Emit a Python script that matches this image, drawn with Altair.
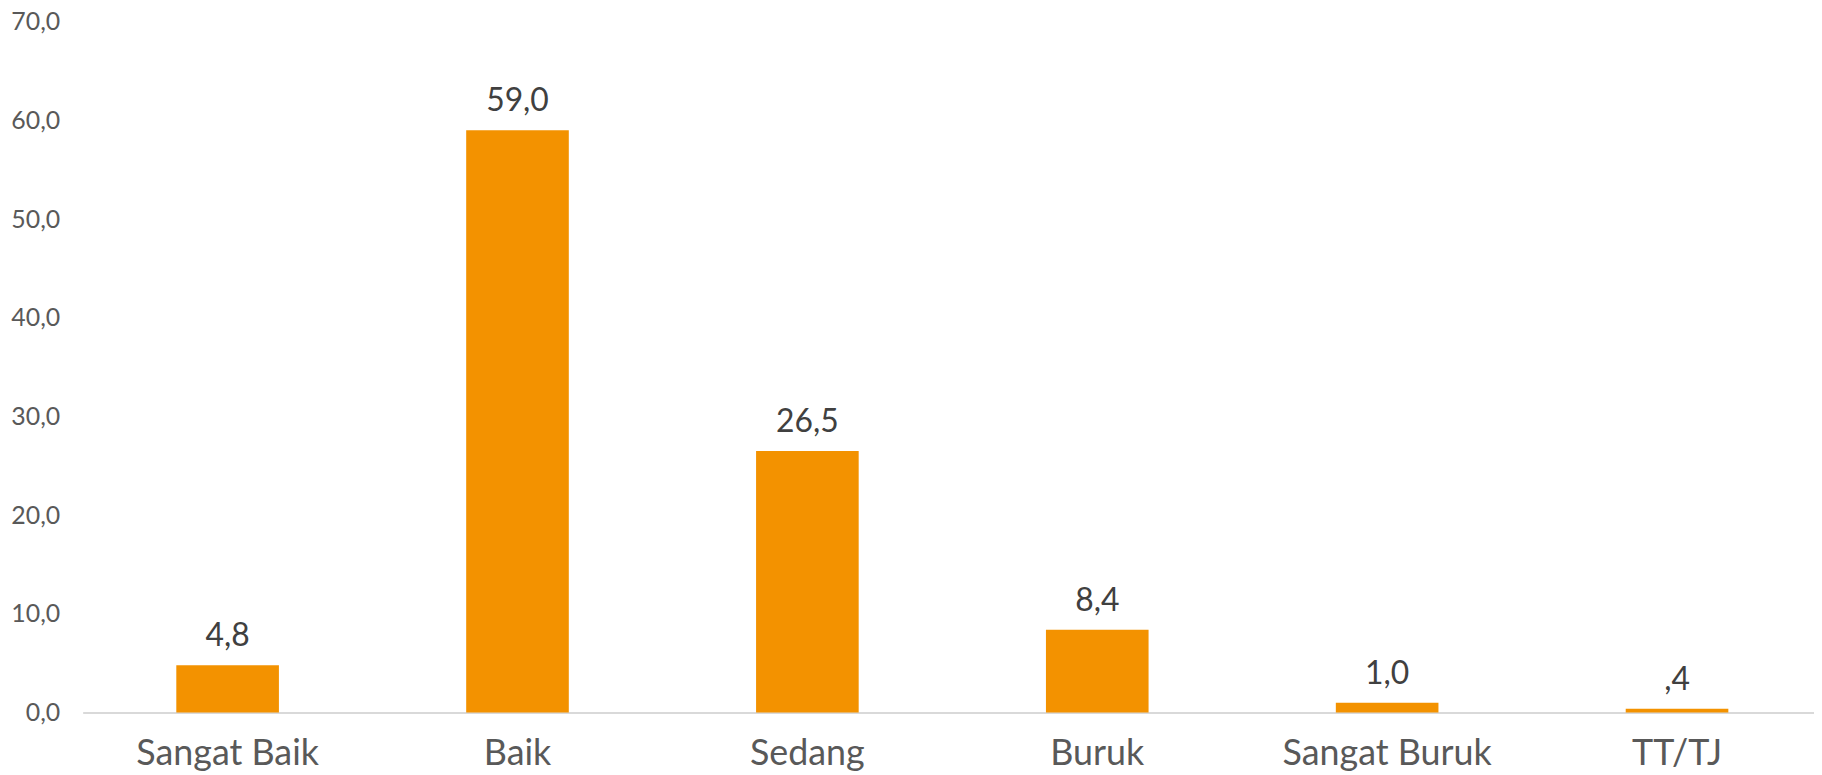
import altair as alt
import pandas as pd

categories = ["Sangat Baik", "Baik", "Sedang", "Buruk", "Sangat Buruk", "TT/TJ"]
values = [4.8, 59.0, 26.5, 8.4, 1.0, 0.4]


def fmt(v):
    s = f"{v:.1f}".replace(".", ",")
    if s.startswith("0,"):
        s = s[1:]
    return s


df = pd.DataFrame({
    "kategori": categories,
    "nilai": values,
    "label": [fmt(v) for v in values],
})

FONT = "Lato"

x = alt.X(
    "kategori:N",
    sort=categories,
    scale=alt.Scale(paddingInner=0.646, paddingOuter=0.323, range=[0, 1747]),
    axis=alt.Axis(
        title=None,
        labelAngle=0,
        labelFont=FONT,
        labelFontSize=36,
        labelColor="#595959",
        labelPadding=24,
        labelLimit=500,
        ticks=False,
        domainColor="#D9D9D9",
        domainWidth=2,
        grid=False,
    ),
)

y = alt.Y(
    "nilai:Q",
    scale=alt.Scale(domain=[0, 70], nice=False),
    axis=alt.Axis(
        title=None,
        values=[0, 10, 20, 30, 40, 50, 60, 70],
        labelExpr="replace(format(datum.value, '.1f'), '.', ',')",
        labelFont=FONT,
        labelFontSize=25,
        labelColor="#595959",
        labelPadding=23,
        ticks=False,
        domain=False,
        grid=False,
    ),
)

bars = alt.Chart(df).mark_bar(color="#F39200").encode(x=x, y=y)

text = alt.Chart(df).mark_text(
    baseline="alphabetic",
    dy=-19,
    font=FONT,
    fontSize=32,
    color="#404040",
).encode(x=alt.X("kategori:N", sort=categories), y="nilai:Q", text="label:N")

chart = (
    alt.layer(bars, text)
    .properties(
        width=1739,
        height=694,
        padding={"left": 75, "top": 12, "right": 0, "bottom": 62},
        autosize=alt.AutoSizeParams(type="none"),
        background="white",
    )
    .configure_view(strokeWidth=0, stroke="transparent")
)

chart.save("out.html", embed_options={"renderer": "svg", "actions": False})
